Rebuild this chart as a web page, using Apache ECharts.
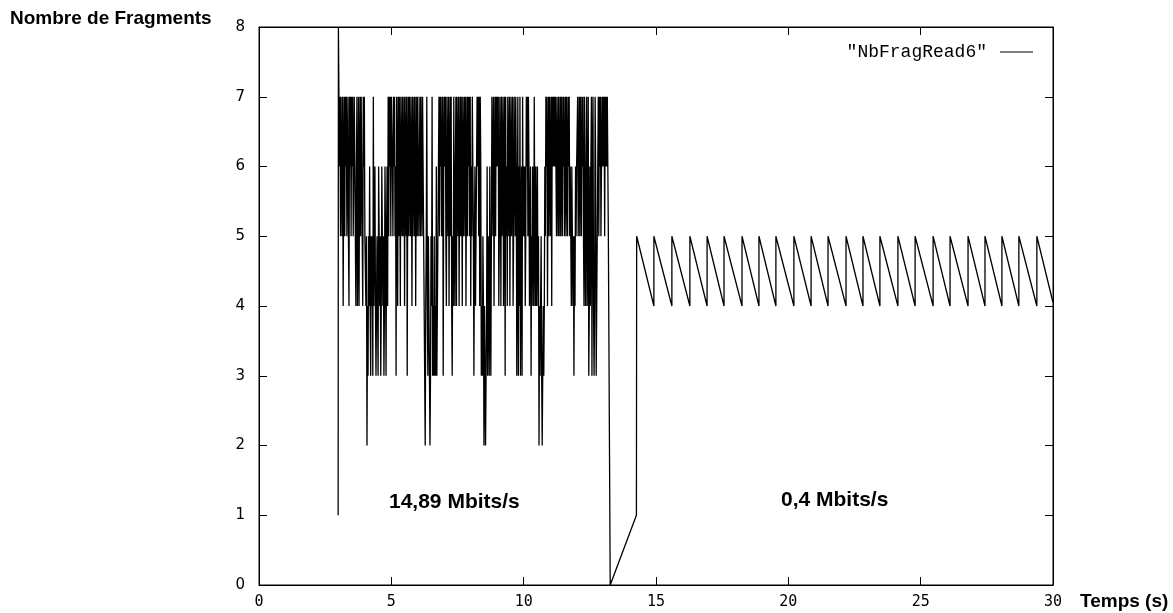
<!DOCTYPE html>
<html>
<head>
<meta charset="utf-8">
<script src="https://cdn.jsdelivr.net/npm/echarts@6/dist/echarts.min.js"></script>
<style>
  html, body { margin: 0; padding: 0; background: #fff; }
  #chart { width: 1173px; height: 613px; }
</style>
</head>
<body>
<div id="chart"></div>
<script>
// debut de la lecture : saut de 1 a 8 vers t = 3 s
var startPoints = [[2.99, 1], [3.00, 8]];

// phase rapide (14,89 Mbits/s) : un chiffre par echantillon
var fastStart = 3.02;      // s, premier echantillon
var samplePeriod = 0.02;   // s, periode d'echantillonnage du log
var fastRows = [
  '76757657467576756754767576756765467457467576547675',   // 3 s
  '54524354643545374564345436545346545346535647576757',   // 4 s
  '76576756376475764765756747657367576576475675746757',   // 5 s
  '75675765765432457435432354734353436345675767567367',   // 6 s
  '67547657467574354754674765746757647567574675767574',   // 7 s
  '65765356456767574763435424323463543643576574675767',   // 8 s
  '67457647567467375647657467567457657635736473563756',   // 9 s
  '56457675764563546547546456452434532343465767467576',   // 10 s
  '57476767676576575675765767567576576756546545354656',   // 11 s
  '67567576576754754674573464673674347634567576756767',   // 12 s
  '6757676765'                                            // 13 s
];

// chute a 0 puis reprise lente
var gapPoints = [[13.27, 0], [14.26, 1]];

// phase lente (0,4 Mbits/s) : dents de scie entre 4 et 5
var peakTimes = [14.27, 14.92, 15.60, 16.28, 16.93, 17.57, 18.25, 18.89, 19.53, 20.21, 20.86, 21.50,
  22.18, 22.82, 23.46, 24.14, 24.79, 25.47, 26.11, 26.79, 27.43, 28.07, 28.71, 29.39];
var endPoint = [30.0, 4.05];

var seriesData = [].concat(startPoints);
fastRows.join('').split('').forEach(function (c, i) {
  seriesData.push([+(fastStart + i * samplePeriod).toFixed(2), +c]);
});
seriesData = seriesData.concat(gapPoints);
peakTimes.forEach(function (t, i) {
  if (i > 0) seriesData.push([t, 4]);
  seriesData.push([t, 5]);
});
seriesData.push(endPoint);

function makeAxis(extra) {
  return Object.assign({
    type: 'value',
    axisLine: { show: true, onZero: false, lineStyle: { color: '#000', width: 1 } },
    axisTick: { show: true, inside: true, length: 8, lineStyle: { color: '#000', width: 1 } },
    splitLine: { show: false }
  }, extra);
}

var myChart = echarts.init(document.getElementById('chart'));
var option = {
  animation: false,
  backgroundColor: '#fff',
  grid: { left: 259, right: 120, top: 27, bottom: 28, show: true, borderColor: '#000', borderWidth: 1 },
  legend: {
    data: ['"NbFragRead6"'],
    right: 140,
    top: 43,
    padding: 0,
    align: 'right',
    icon: 'rect',
    itemWidth: 33,
    itemHeight: 1,
    textStyle: { fontFamily: 'Liberation Mono', fontSize: 18, color: '#000', padding: [0, 8, 0, 0] }
  },
  xAxis: [
    makeAxis({ position: 'bottom', min: 0, max: 30, interval: 5,
      axisLabel: { color: '#000', fontFamily: 'DejaVu Sans Mono', fontSize: 15, margin: 10 } }),
    makeAxis({ position: 'top', min: 0, max: 30, interval: 5, axisLabel: { show: false } })
  ],
  yAxis: [
    makeAxis({ position: 'left', min: 0, max: 8, interval: 1,
      axisLabel: { color: '#000', fontFamily: 'DejaVu Sans', fontSize: 15, margin: 14 } }),
    makeAxis({ position: 'right', min: 0, max: 8, interval: 1, axisLabel: { show: false } })
  ],
  series: [{
    name: '"NbFragRead6"',
    type: 'line',
    data: seriesData,
    showSymbol: false,
    symbol: 'none',
    lineStyle: { color: '#000', width: 1.3 },
    itemStyle: { color: '#000' }
  }],
  graphic: [
    { type: 'text', x: 10, y: 19, style: { text: 'Nombre de Fragments', font: 'bold 19px "Liberation Sans"', fill: '#000', verticalAlign: 'middle' } },
    { type: 'text', x: 1080, y: 602, style: { text: 'Temps (s)', font: 'bold 19px "Liberation Sans"', fill: '#000', verticalAlign: 'middle' } },
    { type: 'text', x: 389, y: 502, style: { text: '14,89 Mbits/s', font: 'bold 21px "Liberation Sans"', fill: '#000', verticalAlign: 'middle' } },
    { type: 'text', x: 781, y: 500, style: { text: '0,4 Mbits/s', font: 'bold 21px "Liberation Sans"', fill: '#000', verticalAlign: 'middle' } }
  ]
};
myChart.setOption(option);
</script>
</body>
</html>
